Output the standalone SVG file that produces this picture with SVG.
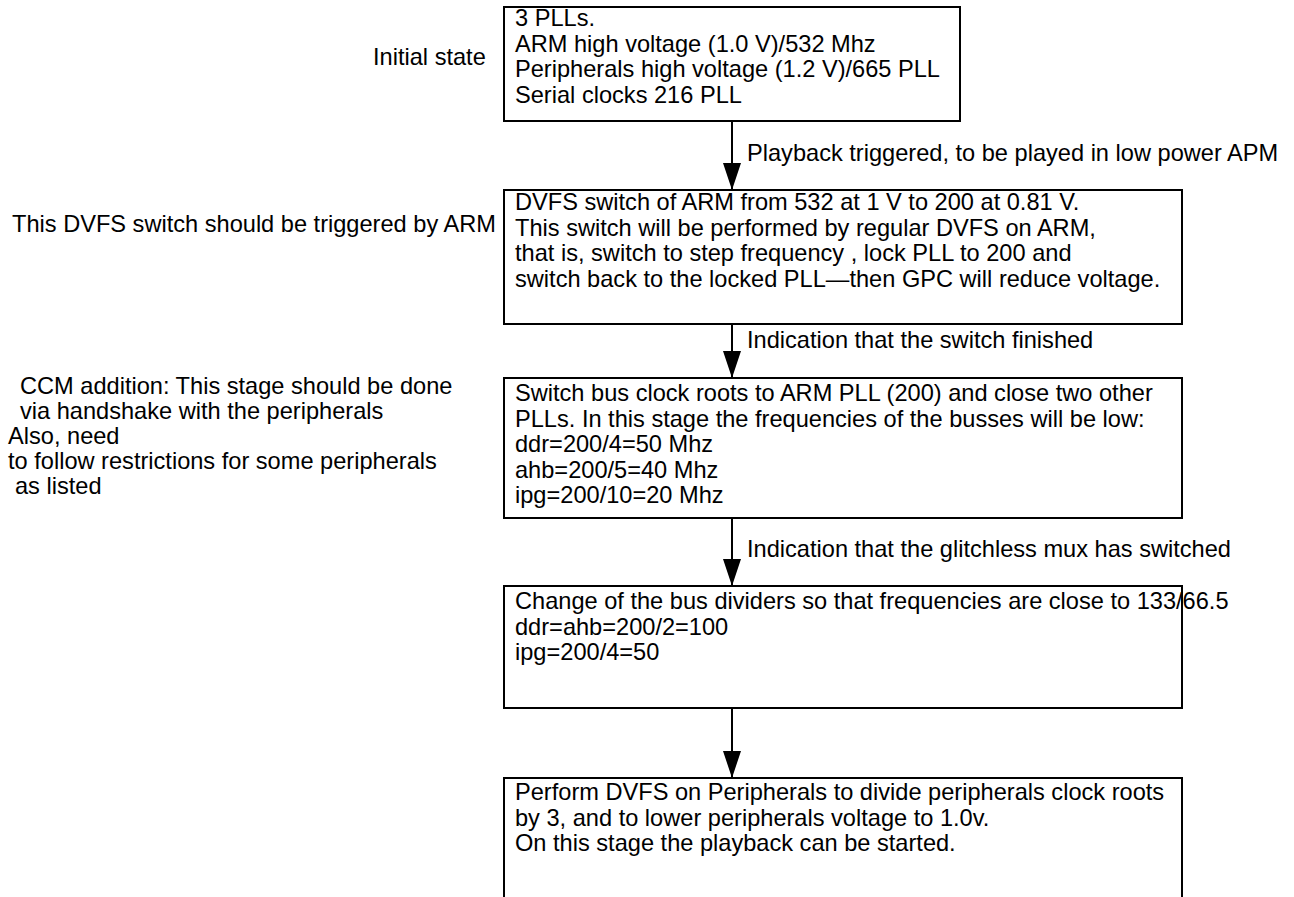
<svg xmlns="http://www.w3.org/2000/svg" width="1294" height="897" viewBox="0 0 1294 897">
  <style>
    .box { fill: #fff; stroke: #000; stroke-width: 2; }
    .wire { fill: none; stroke: #000; stroke-width: 2; }
    .t { font-family: "Liberation Sans", Arial, Helvetica, sans-serif; font-size: 23.6px; fill: #000; }
  </style>
  <defs>
    <marker id="arrow" markerUnits="userSpaceOnUse" markerWidth="28" markerHeight="18" refX="27" refY="9" orient="auto">
      <path d="M0,0 L27,9 L0,18 z" fill="#000"/>
    </marker>
  </defs>
  <rect width="1294" height="897" fill="#fff"/>

  <!-- connectors between the stages -->
  <g id="connectors">
    <line class="wire" x1="732" y1="121" x2="732" y2="190" marker-end="url(#arrow)"/>
    <line class="wire" x1="732" y1="324" x2="732" y2="378" marker-end="url(#arrow)"/>
    <line class="wire" x1="732" y1="518" x2="732" y2="586" marker-end="url(#arrow)"/>
    <line class="wire" x1="732" y1="708" x2="732" y2="778" marker-end="url(#arrow)"/>
    <text class="t" x="747" y="161">Playback triggered, to be played in low power APM</text>
    <text class="t" x="747" y="348">Indication that the switch finished</text>
    <text class="t" x="747" y="557">Indication that the glitchless mux has switched</text>
  </g>

  <!-- side notes -->
  <g id="note-initial">
    <text class="t" x="373" y="65">Initial state</text>
  </g>
  <g id="note-dvfs">
    <text class="t" x="12" y="232">This DVFS switch should be triggered by ARM</text>
  </g>
  <g id="note-ccm">
    <text class="t" x="20" y="394">CCM addition: This stage should be done</text>
    <text class="t" x="20" y="419">via handshake with the peripherals</text>
    <text class="t" x="8" y="444">Also, need</text>
    <text class="t" x="8" y="469">to follow restrictions for some peripherals</text>
    <text class="t" x="15" y="494">as listed</text>
  </g>

  <!-- stage boxes -->
  <g id="stage-initial">
    <rect class="box" x="504" y="7" width="456" height="114"/>
    <text class="t" x="515" y="26">3 PLLs.</text>
    <text class="t" x="515" y="51.5">ARM high voltage (1.0 V)/532 Mhz</text>
    <text class="t" x="515" y="77">Peripherals high voltage (1.2 V)/665 PLL</text>
    <text class="t" x="515" y="102.5">Serial clocks 216 PLL</text>
  </g>
  <g id="stage-arm-dvfs">
    <rect class="box" x="504" y="190" width="678" height="134"/>
    <text class="t" x="515" y="210">DVFS switch of ARM from 532 at 1 V to 200 at 0.81 V.</text>
    <text class="t" x="515" y="235.5">This switch will be performed by regular DVFS on ARM,</text>
    <text class="t" x="515" y="261">that is, switch to step frequency , lock PLL to 200 and</text>
    <text class="t" x="515" y="286.5">switch back to the locked PLL—then GPC will reduce voltage.</text>
  </g>
  <g id="stage-bus-roots">
    <rect class="box" x="504" y="378" width="678" height="140"/>
    <text class="t" x="515" y="401">Switch bus clock roots to ARM PLL (200) and close two other</text>
    <text class="t" x="515" y="426.5">PLLs. In this stage the frequencies of the busses will be low:</text>
    <text class="t" x="515" y="452">ddr=200/4=50 Mhz</text>
    <text class="t" x="515" y="477.5">ahb=200/5=40 Mhz</text>
    <text class="t" x="515" y="503">ipg=200/10=20 Mhz</text>
  </g>
  <g id="stage-bus-dividers">
    <rect class="box" x="504" y="586" width="678" height="122"/>
    <text class="t" x="515" y="609">Change of the bus dividers so that frequencies are close to 133/66.5</text>
    <text class="t" x="515" y="634.5">ddr=ahb=200/2=100</text>
    <text class="t" x="515" y="660">ipg=200/4=50</text>
  </g>
  <g id="stage-periph-dvfs">
    <path class="box" d="M504,898 V778 H1182 V898"/>
    <text class="t" x="515" y="800">Perform DVFS on Peripherals to divide peripherals clock roots</text>
    <text class="t" x="515" y="825.5">by 3, and to lower peripherals voltage to 1.0v.</text>
    <text class="t" x="515" y="851">On this stage the playback can be started.</text>
  </g>
</svg>
